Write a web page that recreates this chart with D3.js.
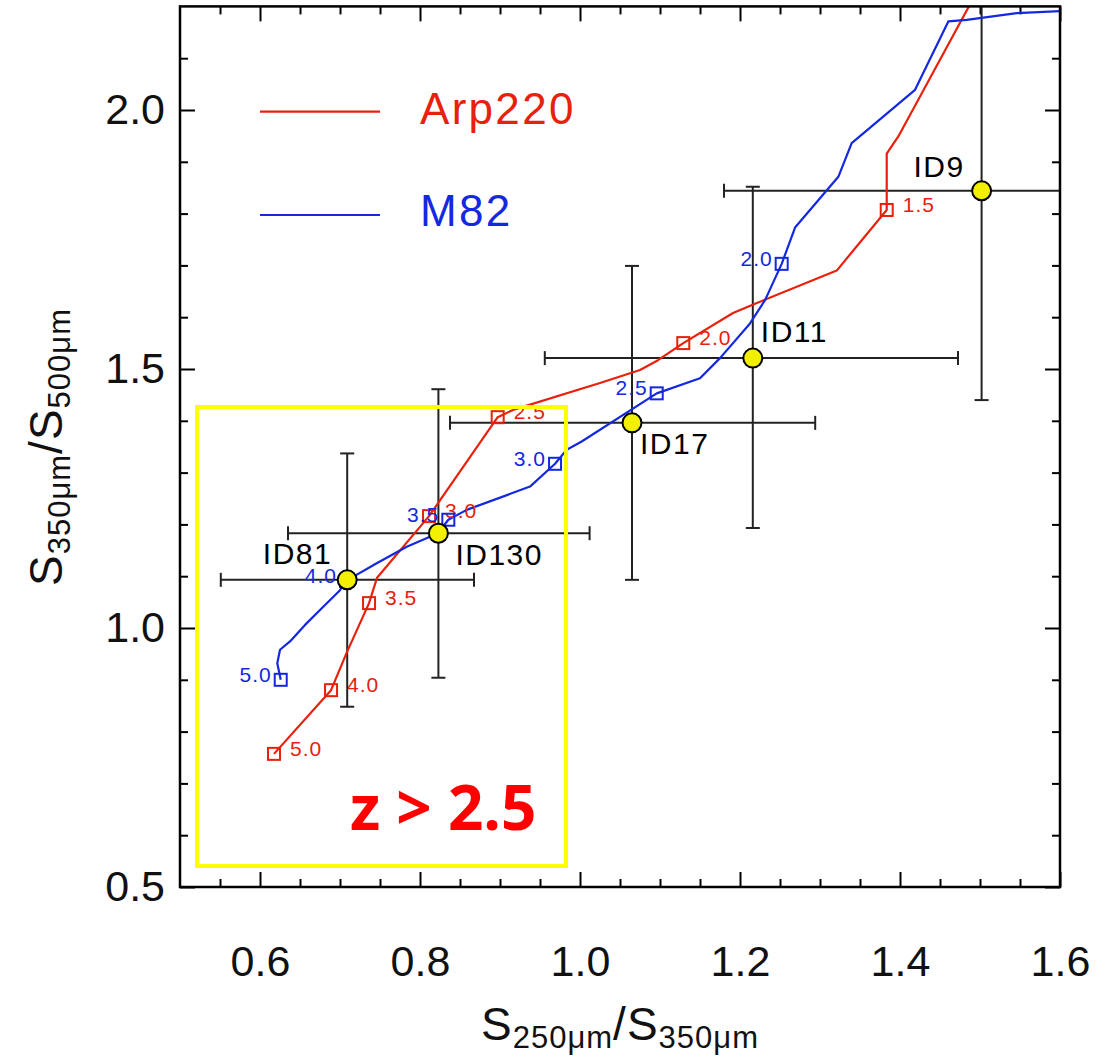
<!DOCTYPE html>
<html><head><meta charset="utf-8">
<script src="https://cdn.jsdelivr.net/npm/d3@7"></script>
<style>body{margin:0;background:#fff}svg{display:block}</style>
</head><body>
<svg id="c" width="1113" height="1057"></svg>
<script>
// ---------- data ----------
const xTickLabels = ["0.6","0.8","1.0","1.2","1.4","1.6"];
const yTickLabels = ["0.5","1.0","1.5","2.0"];
const xMinor = [0.55,0.65,0.7,0.75,0.85,0.9,0.95,1.05,1.1,1.15,1.25,1.3,1.35,1.45,1.5,1.55];
const yMinor = [0.6,0.7,0.8,0.9,1.1,1.2,1.3,1.4,1.6,1.7,1.8,1.9,2.1];

// Arp220 track (x = S250/S350, y = S350/S500)
const arpX = [0.6175,0.6888,0.7088,0.7363,0.7463,0.8113,0.8971,0.9163,1.025,1.075,1.0975,1.1291,1.1913,1.2188,1.3209,1.3834,1.3834,1.3979,1.4854,1.494];
const arpY = [0.757,0.880,0.954,1.048,1.097,1.216,1.407,1.421,1.473,1.498,1.517,1.550,1.608,1.626,1.690,1.807,1.916,1.949,2.198,2.222];
// Arp220 redshift markers
const arpMarkZ = ["5.0","4.0","3.5","3.0","2.5","2.0","1.5"];
const arpMarkX = [0.6175,0.6888,0.7363,0.8113,0.8971,1.1291,1.3834];
const arpMarkY = [0.757,0.880,1.048,1.216,1.407,1.550,1.807];

// M82 track
const m82X = [0.6259,0.6216,0.625,0.6375,0.6563,0.6791,0.70,0.7075,0.7459,0.7834,0.8225,0.8354,0.8584,0.9375,0.9688,0.9834,1.0021,1.0959,1.15,1.175,1.2125,1.2313,1.2521,1.2688,1.3229,1.3396,1.4188,1.4604,1.4834,1.5459,1.60];
const m82Y = [0.900,0.932,0.958,0.974,1.006,1.041,1.073,1.091,1.125,1.157,1.183,1.209,1.228,1.273,1.317,1.344,1.360,1.453,1.482,1.521,1.588,1.633,1.703,1.773,1.871,1.936,2.039,2.171,2.174,2.187,2.191];
const m82MarkZ = ["5.0","4.0","3.5","3.0","2.5","2.0"];
const m82MarkX = [0.6259,0.7075,0.8354,0.9688,1.0959,1.2521];
const m82MarkY = [0.900,1.091,1.209,1.317,1.453,1.703];

// sources with error bars
const srcNames = ["ID81","ID130","ID17","ID11","ID9"];
const srcX  = [0.709,0.823,1.065,1.216,1.502];
const srcY  = [1.093,1.183,1.396,1.521,1.844];
const srcXlo = [0.551,0.635,0.8375,0.956,1.180];
const srcXhi = [0.8675,1.012,1.294,1.4725,1.85];
const srcYlo = [0.848,0.904,1.093,1.193,1.440];
const srcYhi = [1.337,1.461,1.699,1.852,2.35];

// highlight box (data units) and its caption
const boxX = [0.5213,0.9825];
const boxY = [0.5405,1.4266];
const boxCaption = "z > 2.5";
const boxCaptionPos = [0.7125,0.61];

// ---------- layout / style ----------
const RED = "#e8200c", BLUE = "#1428e0";
const labelOffsets = {ID81:[-15,-16,"end"],ID130:[17,32,"start"],ID17:[8,31,"start"],ID11:[8,-16,"start"],ID9:[-17,-14,"end"]};

const svg = d3.select("#c");
const X0=180, X1=1060, Y0=887, Y1=6.4;
const x = d3.scaleLinear().domain([0.5,1.6]).range([X0,X1]);
const y = d3.scaleLinear().domain([0.5,2.2]).range([Y0,Y1]);

svg.append("defs").append("clipPath").attr("id","clip")
  .append("rect").attr("x",X0).attr("y",Y1).attr("width",X1-X0).attr("height",Y0-Y1);

const FONT = "'Liberation Sans', Arial, sans-serif";

// axes (ticks inside on all four sides)
function styleAxis(g){ g.select(".domain").remove(); g.selectAll("line").attr("stroke","#000").attr("stroke-width",2); }
const xMajorVals = xTickLabels.map(Number), yMajorVals = yTickLabels.map(Number);

svg.append("g").attr("transform",`translate(0,${Y0})`)
  .call(d3.axisBottom(x).tickValues(xMajorVals).tickSize(-15).tickPadding(58).tickFormat((d,i)=>xTickLabels[i]))
  .call(styleAxis).call(g=>g.selectAll("text").attr("font-family",FONT).attr("font-size",43).attr("fill","#111"));
svg.append("g").attr("transform",`translate(0,${Y0})`)
  .call(d3.axisBottom(x).tickValues(xMinor).tickSize(-8).tickFormat("")).call(styleAxis);
svg.append("g").attr("transform",`translate(0,${Y1})`)
  .call(d3.axisTop(x).tickValues(xMajorVals).tickSize(-15).tickFormat("")).call(styleAxis);
svg.append("g").attr("transform",`translate(0,${Y1})`)
  .call(d3.axisTop(x).tickValues(xMinor).tickSize(-8).tickFormat("")).call(styleAxis);

svg.append("g").attr("transform",`translate(${X0},0)`)
  .call(d3.axisLeft(y).tickValues(yMajorVals).tickSize(-15).tickPadding(15).tickFormat((d,i)=>yTickLabels[i]))
  .call(styleAxis).call(g=>g.selectAll("text").attr("font-family",FONT).attr("font-size",43).attr("fill","#111"));
svg.append("g").attr("transform",`translate(${X0},0)`)
  .call(d3.axisLeft(y).tickValues(yMinor).tickSize(-8).tickFormat("")).call(styleAxis);
svg.append("g").attr("transform",`translate(${X1},0)`)
  .call(d3.axisRight(y).tickValues(yMajorVals).tickSize(-15).tickFormat("")).call(styleAxis);
svg.append("g").attr("transform",`translate(${X1},0)`)
  .call(d3.axisRight(y).tickValues(yMinor).tickSize(-8).tickFormat("")).call(styleAxis);

const plot = svg.append("g").attr("clip-path","url(#clip)");

// error bars
const capH = 7;
srcNames.forEach((n,i)=>{
  const g = plot.append("g").attr("stroke","#222").attr("stroke-width",2);
  g.append("line").attr("x1",x(srcXlo[i])).attr("x2",x(srcXhi[i])).attr("y1",y(srcY[i])).attr("y2",y(srcY[i]));
  g.append("line").attr("x1",x(srcX[i])).attr("x2",x(srcX[i])).attr("y1",y(srcYlo[i])).attr("y2",y(srcYhi[i]));
  [srcXlo[i],srcXhi[i]].forEach(v=>g.append("line").attr("x1",x(v)).attr("x2",x(v)).attr("y1",y(srcY[i])-capH).attr("y2",y(srcY[i])+capH));
  [srcYlo[i],srcYhi[i]].forEach(v=>g.append("line").attr("y1",y(v)).attr("y2",y(v)).attr("x1",x(srcX[i])-capH).attr("x2",x(srcX[i])+capH));
});

// tracks
const line = d3.line().x(d=>x(d[0])).y(d=>y(d[1]));
plot.append("path").attr("d",line(d3.zip(arpX,arpY))).attr("fill","none").attr("stroke",RED).attr("stroke-width",2.2).attr("stroke-linejoin","round");
plot.append("path").attr("d",line(d3.zip(m82X,m82Y))).attr("fill","none").attr("stroke",BLUE).attr("stroke-width",2.2).attr("stroke-linejoin","round");

// markers
const sq = 12;
arpMarkZ.forEach((z,i)=>{
  plot.append("rect").attr("x",x(arpMarkX[i])-sq/2).attr("y",y(arpMarkY[i])-sq/2).attr("width",sq).attr("height",sq)
    .attr("fill","none").attr("stroke",RED).attr("stroke-width",2);
  plot.append("text").attr("x",x(arpMarkX[i])+16).attr("y",y(arpMarkY[i])+2).text(z)
    .attr("font-family",FONT).attr("font-size",21).attr("letter-spacing",1).attr("fill",RED);
});
m82MarkZ.forEach((z,i)=>{
  plot.append("rect").attr("x",x(m82MarkX[i])-sq/2).attr("y",y(m82MarkY[i])-sq/2).attr("width",sq).attr("height",sq)
    .attr("fill","none").attr("stroke",BLUE).attr("stroke-width",2);
  plot.append("text").attr("x",x(m82MarkX[i])-9).attr("y",y(m82MarkY[i])+2).text(z).attr("text-anchor","end")
    .attr("font-family",FONT).attr("font-size",21).attr("letter-spacing",1).attr("fill",BLUE);
});

// sources
srcNames.forEach((n,i)=>{
  plot.append("circle").attr("cx",x(srcX[i])).attr("cy",y(srcY[i])).attr("r",9.5)
    .attr("fill","#f2f000").attr("stroke","#000").attr("stroke-width",2);
  const o = labelOffsets[n];
  plot.append("text").attr("x",x(srcX[i])+o[0]).attr("y",y(srcY[i])+o[1]).attr("text-anchor",o[2]).text(n)
    .attr("font-family",FONT).attr("font-size",30).attr("letter-spacing",1.5).attr("fill","#000");
});

// legend
const legend = [["Arp220",RED,111.7,123.5],["M82",BLUE,215,226]];
legend.forEach(l=>{
  svg.append("line").attr("x1",260).attr("x2",380).attr("y1",l[2]).attr("y2",l[2]).attr("stroke",l[1]).attr("stroke-width",2.2);
  svg.append("text").attr("x",420).attr("y",l[3]).text(l[0]).attr("font-family",FONT).attr("font-size",44)
    .attr("letter-spacing",2.3).attr("fill",l[1]);
});

// frame
svg.append("rect").attr("x",X0).attr("y",Y1).attr("width",X1-X0).attr("height",Y0-Y1)
  .attr("fill","none").attr("stroke","#000").attr("stroke-width",2.5);

// highlight box
svg.append("rect").attr("x",x(boxX[0])).attr("y",y(boxY[1])).attr("width",x(boxX[1])-x(boxX[0])).attr("height",y(boxY[0])-y(boxY[1]))
  .attr("fill","none").attr("stroke","#ffff00").attr("stroke-width",4);
svg.append("text").attr("x",x(boxCaptionPos[0])).attr("y",y(boxCaptionPos[1])).text(boxCaption)
  .attr("font-family","'Open Sans', sans-serif").attr("font-weight",700).attr("font-size",62).attr("fill","#ff0000");

// axis titles
function title(t, a, b){
  t.attr("font-family",FONT).attr("fill","#111").attr("letter-spacing",1);
  t.append("tspan").attr("font-size",46).text("S");
  t.append("tspan").attr("font-size",31).attr("dy",8).text(a);
  t.append("tspan").attr("font-size",46).attr("dy",-8).text("/");
  t.append("tspan").attr("font-size",46).text("S");
  t.append("tspan").attr("font-size",31).attr("dy",8).text(b);
}
title(svg.append("text").attr("x",620).attr("y",1040).attr("text-anchor","middle"), "250\u03bcm", "350\u03bcm");
title(svg.append("text").attr("transform","translate(62,447) rotate(-90)").attr("text-anchor","middle"), "350\u03bcm", "500\u03bcm");
</script>
</body></html>
